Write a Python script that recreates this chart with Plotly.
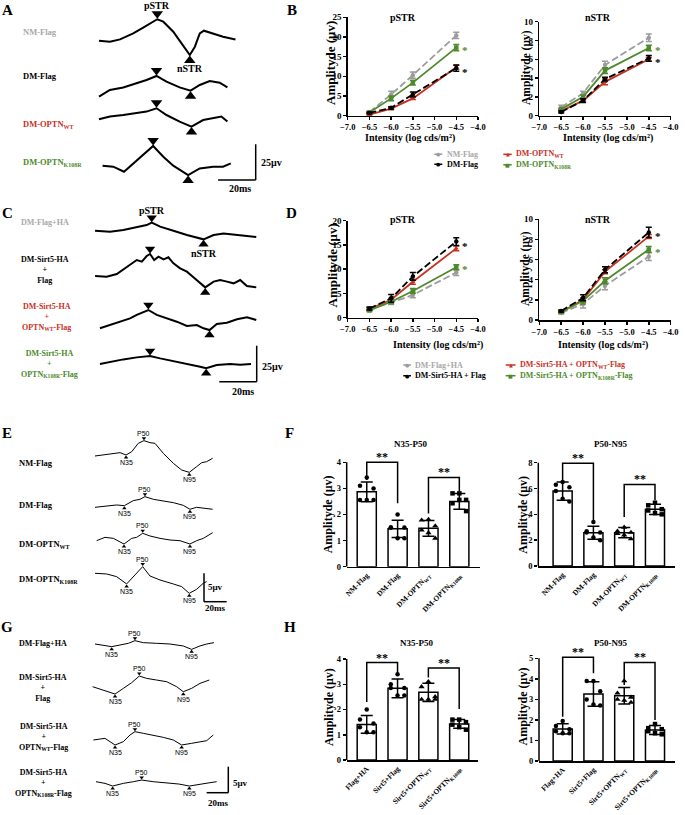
import numpy as np
import plotly.graph_objects as go

W, H = 685, 815
SERIF = "Liberation Serif"
SANS = "Liberation Sans"
GRAY = "#9c9c9c"
GRAY_TXT = "#a8a8a8"
RED = "#c8311f"
GREEN = "#4e8a2c"
BLACK = "#000000"

# ------------------------------------------------------------------ DATA
intensity = [-6.5, -6.0, -5.5, -4.5]

# Panel B (STR, diabetic + OPTN)
B_pSTR_NM = [0.9, 5.4, 10.3, 20.4]
B_pSTR_NM_err = [0.3, 0.8, 0.8, 0.8]
B_pSTR_DM = [0.7, 2.0, 5.4, 12.1]
B_pSTR_DM_err = [0.2, 0.3, 0.6, 0.8]
B_pSTR_WT = [0.3, 1.8, 4.4, 12.3]
B_pSTR_WT_err = [0.2, 0.3, 0.3, 0.5]
B_pSTR_K = [0.8, 4.4, 8.4, 17.3]
B_pSTR_K_err = [0.2, 0.6, 0.6, 0.8]
B_nSTR_NM = [0.9, 2.4, 5.4, 8.3]
B_nSTR_NM_err = [0.2, 0.2, 0.4, 0.4]
B_nSTR_DM = [0.4, 1.6, 3.9, 6.1]
B_nSTR_DM_err = [0.1, 0.2, 0.2, 0.3]
B_nSTR_WT = [0.5, 1.6, 3.6, 6.0]
B_nSTR_WT_err = [0.1, 0.1, 0.3, 0.2]
B_nSTR_K = [0.7, 2.0, 4.8, 7.2]
B_nSTR_K_err = [0.1, 0.2, 0.3, 0.3]
B_legend = ["NM-Flag", "DM-Flag", "DM-OPTN<sub>WT</sub>", "DM-OPTN<sub>K108R</sub>"]

# Panel D (STR, Sirt5 + OPTN)
D_pSTR_HA = [1.8, 3.1, 4.7, 9.3]
D_pSTR_HA_err = [0.2, 0.4, 0.6, 0.6]
D_pSTR_SF = [1.9, 4.0, 8.5, 15.7]
D_pSTR_SF_err = [0.3, 0.8, 0.8, 0.8]
D_pSTR_WT = [1.8, 3.7, 7.4, 14.3]
D_pSTR_WT_err = [0.2, 0.3, 0.5, 0.5]
D_pSTR_K = [1.5, 3.3, 5.5, 10.4]
D_pSTR_K_err = [0.2, 0.4, 0.5, 0.5]
D_nSTR_HA = [0.7, 1.6, 3.4, 6.3]
D_nSTR_HA_err = [0.1, 0.4, 0.4, 0.4]
D_nSTR_SF = [0.9, 2.2, 5.0, 8.7]
D_nSTR_SF_err = [0.1, 0.3, 0.3, 0.5]
D_nSTR_WT = [0.8, 2.0, 4.8, 8.3]
D_nSTR_WT_err = [0.1, 0.2, 0.2, 0.2]
D_nSTR_K = [0.8, 1.9, 3.9, 7.0]
D_nSTR_K_err = [0.1, 0.3, 0.3, 0.3]
D_legend = ["DM-Flag+HA", "DM-Sirt5-HA + Flag", "DM-Sirt5-HA + OPTN<sub>WT</sub>-Flag",
            "DM-Sirt5-HA + OPTN<sub>K108R</sub>-Flag"]

# Panel F (bar charts)
F_labels = ["NM-Flag", "DM-Flag", "DM-OPTN<sub>WT</sub>", "DM-OPTN<sub>K108R</sub>"]
F_N35P50_mean = [2.87, 1.45, 1.47, 2.50]
F_N35P50_sd = [0.38, 0.33, 0.30, 0.30]
F_N35P50_pts = [[3.42, 3.10, 3.00, 2.56, 2.56, 2.56],
                [2.00, 1.50, 1.50, 1.50, 1.09, 1.09],
                [1.81, 1.78, 1.56, 1.40, 1.30, 1.09],
                [2.81, 2.81, 2.56, 2.43, 2.56, 2.13]]
F_P50N95_mean = [5.80, 2.58, 2.58, 4.39]
F_P50N95_sd = [0.70, 0.50, 0.40, 0.40]
F_P50N95_pts = [[6.5, 6.3, 6.1, 5.8, 5.2, 5.0],
                [3.4, 2.7, 2.6, 2.6, 2.2, 2.0],
                [3.0, 2.7, 2.6, 2.5, 2.4, 2.1],
                [4.9, 4.7, 4.4, 4.3, 4.1, 4.0]]
F_N35P50_brackets = [(0, 1, 3.32, 4.0, 2.43), (2, 3, 2.04, 3.42, 2.90)]
F_P50N95_brackets = [(0, 1, 6.66, 7.95, 3.56), (2, 3, 3.80, 6.32, 5.10)]

# Panel H
H_labels = ["Flag+HA", "Sirt5+Flag", "Sirt5+OPTN<sub>WT</sub>", "Sirt5+OPTN<sub>K108R</sub>"]
H_N35P50_mean = [1.41, 2.84, 2.68, 1.43]
H_N35P50_sd = [0.35, 0.37, 0.36, 0.17]
H_N35P50_pts = [[2.00, 1.60, 1.45, 1.30, 1.10, 1.10],
                [3.40, 3.00, 2.85, 2.85, 2.55, 2.55],
                [3.10, 2.90, 2.50, 2.40, 2.40, 2.40],
                [1.60, 1.60, 1.50, 1.40, 1.30, 1.20]]
H_P50N95_mean = [1.56, 3.26, 3.18, 1.51]
H_P50N95_sd = [0.25, 0.60, 0.40, 0.22]
H_P50N95_pts = [[1.95, 1.70, 1.55, 1.45, 1.35, 1.35],
                [3.90, 3.90, 3.40, 3.00, 2.75, 2.70],
                [3.90, 3.30, 3.10, 3.00, 2.95, 2.85],
                [1.80, 1.60, 1.55, 1.45, 1.35, 1.30]]
H_N35P50_brackets = [(0, 1, 2.30, 3.86, 3.46), (2, 3, 3.27, 3.64, 2.02)]
H_P50N95_brackets = [(0, 1, 2.16, 5.05, 4.27), (2, 3, 3.70, 4.80, 2.00)]

# Panel A waveforms (t in ms, v in uV)
A_NM_t = [0, 5.8, 11.2, 18.2, 23.5, 28.8, 31.0, 34.2, 39.5, 43.9, 48.3, 51.0, 53.6, 55.8, 60.7, 66.0, 72.6]
A_NM_v = [0, -0.7, 0.9, 5.1, 9.1, 13.3, 15.0, 13.3, 6.3, -1.9, -10.0, -4.2, 5.1, 7.0, 5.1, 2.8, 0.9]
A_DM_t = [0, 5.8, 12.9, 20.0, 25.3, 30.6, 35.9, 42.9, 48.7, 53.6, 58.9, 64.2, 68.3]
A_DM_v = [0, 4.7, 6.5, 9.3, 11.7, 14.5, 10.5, 6.5, 4.2, 8.2, 11.0, 9.8, 6.5]
A_WT_t = [0, 5.8, 12.9, 20.0, 25.3, 30.6, 35.9, 42.9, 49.2, 55.4, 60.7, 65.1, 68.3]
A_WT_v = [0, 1.9, 3.0, 4.2, 5.4, 7.7, 3.0, -1.6, -5.1, -0.5, 0.7, 1.9, -1.6]
A_K_t = [1.9, 7.6, 13.3, 18.2, 23.5, 28.8, 34.2, 39.5, 47.4, 53.6, 60.7, 66.0, 70.1]
A_K_v = [0, -0.7, -4.2, 1.6, 7.5, 13.8, 6.3, 0, -6.5, -1.9, -0.7, -0.7, 1.6]
A_pSTR_t = [31.0, 30.6, 30.6, 28.8]
A_nSTR_t = [48.3, 48.7, 49.2, 47.4]
A_names = ["NM-Flag", "DM-Flag", "DM-OPTN<sub>WT</sub>", "DM-OPTN<sub>K108R</sub>"]

# Panel C waveforms
C_HA_t = [-2.1, 5.9, 13.0, 20.2, 25.5, 28.2, 32.7, 39.8, 47.0, 55.9, 61.3, 66.6, 72.0, 79.1, 84.1]
C_HA_v = [0, -0.7, 0.5, 2.3, 3.9, 5.6, 2.8, 0, -3.0, -6.0, -3.0, -1.9, -2.5, -3.7, -4.4]
C_SF_t = [-2.1, 4.1, 9.5, 13.9, 17.5, 20.2, 22.9, 25.5, 27.3, 29.5, 31.8, 34.5, 37.1, 39.8, 43.4,
          47.0, 50.5, 54.1, 56.8, 61.3, 64.8, 68.4, 72.0, 75.5, 79.1, 84.1]
C_SF_v = [0, -0.5, 1.4, 5.3, 8.8, 11.1, 10.0, 13.9, 15.3, 11.1, 13.4, 11.6, 13.0, 8.8, 5.3,
          3.0, -0.9, -5.1, -7.9, -3.9, -2.8, -3.9, -5.1, -2.8, -6.9, -7.9]
C_WT_t = [0.5, 5.9, 11.3, 16.6, 20.2, 23.8, 26.4, 30.9, 36.3, 41.6, 47.0, 52.3, 55.9, 59.1, 63.0,
          68.4, 73.8, 79.1, 84.1]
C_WT_v = [0, 2.3, 4.6, 6.9, 9.3, 11.6, 12.7, 9.3, 6.9, 4.6, 1.6, 2.3, 0, -1.2, 3.0, 3.9, 6.3, 7.6, 5.8]
C_K_t = [0.5, 5.9, 13.0, 20.2, 27.3, 32.7, 39.8, 47.0, 54.1, 57.3, 63.0, 70.2, 75.5, 81.3]
C_K_v = [0, 1.6, 3.2, 4.6, 5.6, 3.9, 2.1, 0, -1.9, -3.0, -0.7, 0, -0.5, 0]
C_pSTR_t = [28.2, 27.3, 26.4, 27.3]
C_nSTR_t = [55.9, 56.8, 59.1, 57.3]

# Panel E waveforms (PERG)
E_NM_t = [0, 7.4, 16.2, 22.1, 27.4, 32.4, 38.2, 43.2, 48.5, 52.9, 60.3, 69.1, 76.5, 83.2, 89.7, 94.1, 98.5, 103.8]
E_NM_v = [0, 0.18, 0.47, 0.59, 0.18, 0.76, 2.24, 2.71, 2.35, 2.24, 0.47, -1.29, -2.47, -2.88, -1.88, -1.18, -1.0, -0.41]
E_DM_t = [0, 10.3, 19.1, 25.9, 33.8, 39.7, 44.1, 51.5, 60.3, 69.1, 77.9, 83.8, 89.7, 95.6, 103.8]
E_DM_v = [0, 0.24, 0.41, 0.29, 1.18, 1.41, 1.88, 1.41, 1.18, 0.82, 0.35, -0.35, 0, -0.18, -0.35]
E_WT_t = [1.5, 8.8, 16.2, 25.6, 32.4, 36.8, 42.1, 48.5, 57.4, 66.2, 75.0, 83.8, 89.7, 95.6, 103.8]
E_WT_v = [-0.12, 0.47, 0.29, -0.71, 0.29, 0.47, 1.18, 0.71, 0.29, 0, -0.12, -0.71, -0.12, 0.29, 1.29]
E_K_t = [0, 10.3, 19.1, 27.9, 35.3, 42.1, 48.5, 57.4, 69.1, 76.5, 83.2, 89.7, 95.6, 98.5]
E_K_v = [0, -0.12, -0.59, -1.88, -0.29, 1.18, -0.47, -1.18, -1.88, -2.35, -3.53, -2.82, -1.76, -1.47]
E_N35_t = [27.4, 25.9, 25.6, 27.9]
E_P50_t = [43.2, 44.1, 42.1, 42.1]
E_N95_t = [83.2, 83.8, 83.8, 83.2]

# Panel G waveforms
G_HA_t = [0, 7.7, 15.4, 23.1, 30.8, 36.9, 44.6, 56.9, 69.2, 81.5, 89.2, 96.9, 103.1, 109.8]
G_HA_v = [0, -0.19, -0.51, -0.19, 0.13, 0.64, 0.26, 0.13, 0, -0.38, -1.03, -0.38, 0, 0.26]
G_SF_t = [-2.2, 7.7, 18.5, 26.2, 33.8, 40.9, 47.7, 56.9, 66.2, 75.4, 81.5, 89.2, 96.9, 105.5]
G_SF_v = [0, -0.64, -1.41, -0.32, 0.77, 2.05, 1.60, 1.28, 0.96, 0, -0.96, -0.32, 0.64, 1.28]
G_WT_t = [-1.5, 9.2, 18.5, 26.2, 32.3, 36.9, 44.6, 53.8, 63.1, 72.3, 80.0, 89.2, 96.9, 103.1, 109.2]
G_WT_v = [0, 0.32, -0.96, -0.32, 0.96, 1.60, 1.28, 0.96, 0.51, 0, -0.96, -0.64, -0.32, -0.13, 0.96]
G_K_t = [0.9, 9.2, 16.3, 26.2, 35.4, 43.1, 53.8, 66.2, 77.5, 87.1, 96.9, 106.2, 112.3]
G_K_v = [0, -0.32, -0.83, -0.32, 0, 0.32, 0, -0.19, -0.45, -0.83, -0.45, -0.19, 0]
G_N35_t = [15.4, 18.5, 18.5, 16.3]
G_P50_t = [36.9, 40.9, 36.9, 43.1]
G_N95_t = [89.2, 81.5, 80.0, 87.1]

SCALE_MS = 20
SCALE_STR_UV = 25
SCALE_PERG_UV = 5

# ------------------------------------------------------------------ HELPERS
fig = go.Figure()
layout = {}
annotations = []
shapes = []


def xa(i): return "xaxis" if i == 1 else f"xaxis{i}"
def ya(i): return "yaxis" if i == 1 else f"yaxis{i}"
def xr(i): return "x" if i == 1 else f"x{i}"
def yr(i): return "y" if i == 1 else f"y{i}"


def F(size, color="black", family=SERIF, weight="bold"):
    return dict(family=family, size=size, color=color, weight=weight)


def note(text, px, py, size=9, color="black", family=SERIF, weight="bold",
         xanchor="center", yanchor="middle", angle=0):
    annotations.append(dict(text=text, x=px / W, y=1 - py / H, xref="paper", yref="paper",
                            showarrow=False, xanchor=xanchor, yanchor=yanchor, textangle=angle,
                            font=F(size, color, family, weight)))


def pline(x0, y0, x1, y1, color="black", width=1.5, dash="solid"):
    shapes.append(dict(type="line", xref="paper", yref="paper", x0=x0 / W, x1=x1 / W,
                       y0=1 - y0 / H, y1=1 - y1 / H, line=dict(color=color, width=width, dash=dash)))


# ------------------------------------------------------------------ LINE CHARTS (B, D)
def line_axes(i, x0, x1, ytop, ybot, ymax, dtick):
    layout[xa(i)] = dict(domain=[x0 / W, x1 / W], anchor=yr(i), range=[-7, -4], tickmode="linear",
                         tick0=-7, dtick=0.5, tickformat=".1f", ticks="outside", ticklen=3,
                         tickwidth=1.5, tickcolor="black", showline=True, linewidth=1.5,
                         linecolor="black", showgrid=False, zeroline=False, tickfont=F(8.5),
                         fixedrange=True)
    layout[ya(i)] = dict(domain=[1 - ybot / H, 1 - ytop / H], anchor=xr(i), range=[0, ymax],
                         tickmode="linear", tick0=0, dtick=dtick, ticks="outside", ticklen=3,
                         tickwidth=1.5, tickcolor="black", showline=True, linewidth=1.5,
                         linecolor="black", showgrid=False, zeroline=False, tickfont=F(9),
                         fixedrange=True)


line_axes(1, 347.7, 478, 17.3, 115.7, 25, 5)
line_axes(2, 539.3, 670.7, 21.7, 115.7, 10, 2)
line_axes(3, 347.7, 478, 220.7, 317.7, 20, 5)
line_axes(4, 539.3, 670.7, 219.3, 320, 10, 2)

STY = {  # color, dash, symbol
    0: (GRAY, "7px,3px", "circle"),
    1: (BLACK, "7px,3px", "circle"),
    2: (RED, "solid", "triangle-up"),
    3: (GREEN, "solid", "square"),
}

B_p = [(B_pSTR_NM, B_pSTR_NM_err), (B_pSTR_DM, B_pSTR_DM_err), (B_pSTR_WT, B_pSTR_WT_err), (B_pSTR_K, B_pSTR_K_err)]
B_n = [(B_nSTR_NM, B_nSTR_NM_err), (B_nSTR_DM, B_nSTR_DM_err), (B_nSTR_WT, B_nSTR_WT_err), (B_nSTR_K, B_nSTR_K_err)]
D_p = [(D_pSTR_HA, D_pSTR_HA_err), (D_pSTR_SF, D_pSTR_SF_err), (D_pSTR_WT, D_pSTR_WT_err), (D_pSTR_K, D_pSTR_K_err)]
D_n = [(D_nSTR_HA, D_nSTR_HA_err), (D_nSTR_SF, D_nSTR_SF_err), (D_nSTR_WT, D_nSTR_WT_err), (D_nSTR_K, D_nSTR_K_err)]

for ai, series in [(1, B_p), (2, B_n), (3, D_p), (4, D_n)]:
    for k in [0, 2, 3, 1]:
        ys, es = series[k]
        col, dash, sym = STY[k]
        fig.add_trace(go.Scatter(
            x=intensity, y=ys, mode="lines+markers", xaxis=xr(ai), yaxis=yr(ai),
            line=dict(color=col, width=1.8, dash=dash),
            marker=dict(symbol=sym, size=4.5, color=col),
            error_y=dict(type="data", array=es, color=col, thickness=1.5, width=3),
            cliponaxis=False, hoverinfo="skip"))
    for k, col, ys_ in [(1, BLACK, -4), (3, GREEN, -2)]:
        annotations.append(dict(text="*", x=intensity[-1], y=series[k][0][-1], xref=xr(ai),
                                yref=yr(ai), xshift=9, yshift=ys_, showarrow=False,
                                font=F(11, col)))

note("pSTR", 403, 17.5, 10)
note("nSTR", 598, 17.5, 10)
note("pSTR", 403, 219, 10)
note("nSTR", 598, 219, 10)
note("Intensity (log cds/m²)", 410, 138, 10)
note("Intensity (log cds/m²)", 608, 138, 10)
note("Intensity (log cds/m²)", 438, 345, 10)
note("Intensity (log cds/m²)", 603, 345, 10)
note("Amplityde (μv)", 330, 63, 13, angle=-90)
note("Amplityde (μv)", 527, 68, 11.5, angle=-90)
note("Amplityde (μv)", 331.5, 266, 13, angle=-90)
note("Amplityde (μv)", 525, 269, 11.5, angle=-90)


def legend_item(gx0, gx1, gy, k, text, tcolor):
    col, dash, sym = STY[k]
    pline(gx0, gy, gx1, gy, col, 1.5, "solid" if dash == "solid" else "3px,2px")
    ch = {"circle": "●", "triangle-up": "▲", "square": "■"}[sym]
    note(ch, (gx0 + gx1) / 2, gy, 5, col, family="DejaVu Sans", weight="normal")
    note(text, gx1 + 2, gy, 8, tcolor, xanchor="left")


legend_item(434.3, 443.3, 154.3, 0, B_legend[0], GRAY_TXT)
legend_item(434.3, 443.3, 164.3, 1, B_legend[1], BLACK)
legend_item(503.3, 511.7, 154.3, 2, B_legend[2], RED)
legend_item(503.3, 511.7, 164.8, 3, B_legend[3], GREEN)
legend_item(403.3, 411.0, 365.0, 0, D_legend[0], GRAY_TXT)
legend_item(403.3, 411.0, 375.7, 1, D_legend[1], BLACK)
legend_item(505.7, 515.5, 365.0, 2, D_legend[2], RED)
legend_item(505.7, 515.5, 375.7, 3, D_legend[3], GREEN)

# ------------------------------------------------------------------ BAR CHARTS (F, H)
DOT_OFF = [0.0, -0.22, 0.22, -0.22, 0.0, 0.22]
DOT_SYM = ["circle", "circle", "triangle-up", "square"]


def bar_panel(i, x0, x1, dom_top, y0py, top_tick, top_py, dtick, xrange, labels, means, sds, pts, brackets):
    ppu = (y0py - top_py) / top_tick
    ymax = (y0py - dom_top) / ppu
    layout[xa(i)] = dict(domain=[x0 / W, x1 / W], anchor=yr(i), range=xrange, tickmode="array",
                         tickvals=[0, 1, 2, 3], ticktext=labels, tickangle=-45, ticks="",
                         showline=True, linewidth=1.5, linecolor="black", showgrid=False,
                         zeroline=False, tickfont=F(7.5), fixedrange=True)
    layout[ya(i)] = dict(domain=[1 - y0py / H, 1 - dom_top / H], anchor=xr(i), range=[0, ymax],
                         tickmode="array", tickvals=list(np.arange(0, top_tick + 0.001, dtick)),
                         ticks="outside", ticklen=3, tickwidth=1.5, tickcolor="black",
                         showline=False, showgrid=False, zeroline=False, tickfont=F(8.5),
                         fixedrange=True)
    shapes.append(dict(type="line", xref=f"{xr(i)} domain", yref=yr(i), x0=0, x1=0, y0=0,
                       y1=top_tick, line=dict(color="black", width=1.5)))
    fig.add_trace(go.Bar(x=[0, 1, 2, 3], y=means, width=0.62, xaxis=xr(i), yaxis=yr(i),
                         marker=dict(color="white", line=dict(color="black", width=1.5)),
                         error_y=dict(type="data", array=sds, color="black", thickness=1.5, width=6),
                         hoverinfo="skip"))
    for g in range(4):
        fig.add_trace(go.Scatter(x=[g + o for o in DOT_OFF], y=pts[g], mode="markers",
                                 xaxis=xr(i), yaxis=yr(i), cliponaxis=False, hoverinfo="skip",
                                 marker=dict(symbol=DOT_SYM[g], size=4.5 if g != 2 else 5.5,
                                             color="black")))
    for a, b, la, top, lb in brackets:
        fig.add_trace(go.Scatter(x=[a, a, b, b], y=[la, top, top, lb], mode="lines",
                                 xaxis=xr(i), yaxis=yr(i), hoverinfo="skip",
                                 line=dict(color="black", width=1.5)))
        annotations.append(dict(text="**", x=(a + b) / 2, y=top, xref=xr(i), yref=yr(i),
                                yshift=5, showarrow=False, font=F(12)))


bar_panel(5, 346.7, 480, 440, 566.7, 4, 462.3, 1, [-0.65, 3.67], F_labels,
          F_N35P50_mean, F_N35P50_sd, F_N35P50_pts, F_N35P50_brackets)
bar_panel(6, 538.3, 675, 440, 566, 8, 462.7, 2, [-0.79, 3.65], F_labels,
          F_P50N95_mean, F_P50N95_sd, F_P50N95_pts, F_P50N95_brackets)
bar_panel(7, 346.7, 478.3, 640, 760, 4, 659, 1, [-0.65, 3.62], H_labels,
          H_N35P50_mean, H_N35P50_sd, H_N35P50_pts, H_N35P50_brackets)
bar_panel(8, 539, 675, 640, 761, 5, 658.3, 1, [-0.77, 3.65], H_labels,
          H_P50N95_mean, H_P50N95_sd, H_P50N95_pts, H_P50N95_brackets)

note("N35-P50", 410.7, 444.3, 9)
note("P50-N95", 610, 444.3, 9)
note("N35-P50", 416, 642.7, 9)
note("P50-N95", 610, 642.7, 9)
note("Amplityde (μv)", 328.3, 514, 12, angle=-90)
note("Amplityde (μv)", 522.7, 515, 12, angle=-90)
note("Amplityde (μv)", 328.3, 706.7, 12, angle=-90)
note("Amplityde (μv)", 522.7, 706.7, 12, angle=-90)


# ------------------------------------------------------------------ WAVEFORMS (A, C, E, G)
def wave_axes(i, x0, x1, ytop, ybot, t0px, ppm, ppu):
    layout[xa(i)] = dict(domain=[x0 / W, x1 / W], anchor=yr(i),
                         range=[(x0 - t0px) / ppm, (x1 - t0px) / ppm], visible=False, fixedrange=True)
    layout[ya(i)] = dict(domain=[1 - ybot / H, 1 - ytop / H], anchor=xr(i),
                         range=[0, (ybot - ytop) / ppu], visible=False, fixedrange=True)
    return lambda base_py: (ybot - base_py) / ppu


def wave(i, t, v, off, width):
    fig.add_trace(go.Scatter(x=t, y=[vv + off for vv in v], mode="lines", xaxis=xr(i), yaxis=yr(i),
                             line=dict(color="black", width=width, shape="linear"),
                             hoverinfo="skip"))


def wave_mark(i, t, v, off, tm, up, size, ppu, label=None, lab_shift=0, lab_font=None):
    yv = float(np.interp(tm, t, v)) + off
    sym = "triangle-up" if up else "triangle-down"
    shift = (size / 2 + 0.5) / ppu
    fig.add_trace(go.Scatter(x=[tm], y=[yv - shift if up else yv + shift], mode="markers",
                             xaxis=xr(i), yaxis=yr(i), cliponaxis=False, hoverinfo="skip",
                             marker=dict(symbol=sym, size=size, color="black", line=dict(width=0))))
    if label:
        annotations.append(dict(text=label, x=tm, y=yv, xref=xr(i), yref=yr(i), showarrow=False,
                                yshift=lab_shift, font=lab_font))


def scale_bar(i, tc, yc, ms, uv, left_vertical=False):
    if left_vertical:
        shapes.append(dict(type="line", xref=xr(i), yref=yr(i), x0=tc, x1=tc + ms, y0=yc, y1=yc,
                           line=dict(color="black", width=1.5)))
    else:
        shapes.append(dict(type="line", xref=xr(i), yref=yr(i), x0=tc - ms, x1=tc, y0=yc, y1=yc,
                           line=dict(color="black", width=1.5)))
    shapes.append(dict(type="line", xref=xr(i), yref=yr(i), x0=tc, x1=tc, y0=yc, y1=yc + uv,
                       line=dict(color="black", width=1.5)))


# --- A
ppmA, ppuA = 1.88, 1.43
offA = wave_axes(9, 90, 272, 0, 200, 99, ppmA, ppuA)
A_waves = [(A_NM_t, A_NM_v), (A_DM_t, A_DM_v), (A_WT_t, A_WT_v), (A_K_t, A_K_v)]
A_base = [40.7, 96.7, 119.3, 165.7]
for k, (t, v) in enumerate(A_waves):
    o = offA(A_base[k])
    wave(9, t, v, o, 2)
    wave_mark(9, t, v, o, A_pSTR_t[k], False, 10, ppuA,
              "pSTR" if k == 0 else None, 14, F(10))
    wave_mark(9, t, v, o, A_nSTR_t[k], True, 10, ppuA,
              "nSTR" if k == 0 else None, -13, F(10))
scale_bar(9, (255.7 - 99) / ppmA, (200 - 180) / ppuA, SCALE_MS, SCALE_STR_UV)
note("25μv", 258.5, 163, 10, xanchor="left")
note("20ms", 240, 188.5, 10)
A_cols = [GRAY_TXT, BLACK, RED, GREEN]
A_lab_py = [32.3, 76, 124, 163]
for k in range(4):
    note(A_names[k], 21, A_lab_py[k], 8.5, A_cols[k], xanchor="left")

# --- C
ppmC, ppuC = 1.87, 1.44
offC = wave_axes(10, 90, 272, 200, 400, 99, ppmC, ppuC)
C_waves = [(C_HA_t, C_HA_v), (C_SF_t, C_SF_v), (C_WT_t, C_WT_v), (C_K_t, C_K_v)]
C_base = [230.7, 276, 328.3, 364]
for k, (t, v) in enumerate(C_waves):
    o = offC(C_base[k])
    wave(10, t, v, o, 2)
    wave_mark(10, t, v, o, C_pSTR_t[k], False, 9, ppuC,
              "pSTR" if k == 0 else None, 12, F(10))
    wave_mark(10, t, v, o, C_nSTR_t[k], True, 9, ppuC,
              "nSTR" if k == 0 else None, -14, F(10))
scale_bar(10, (256.7 - 99) / ppmC, (400 - 381.7) / ppuC, SCALE_MS, SCALE_STR_UV)
note("25μv", 259.5, 366, 10, xanchor="left")
note("20ms", 243, 391.7, 10)
C_names = ["DM-Flag+HA", "DM-Sirt5-HA<br>+<br>Flag", "DM-Sirt5-HA<br>+<br>OPTN<sub>WT</sub>-Flag",
           "DM-Sirt5-HA<br>+<br>OPTN<sub>K108R</sub>-Flag"]
C_lab_py = [222.7, 270, 317, 364]
C_lab_px = [45, 45, 46.5, 50]
for k in range(4):
    note(C_names[k], C_lab_px[k], C_lab_py[k], 8, A_cols[k])

# --- E
ppmE, ppuE = 1.133, 5.67
offE = wave_axes(11, 85, 240, 420, 620, 95, ppmE, ppuE)
E_waves = [(E_NM_t, E_NM_v), (E_DM_t, E_DM_v), (E_WT_t, E_WT_v), (E_K_t, E_K_v)]
E_base = [456, 507.3, 540, 573.3]
small = F(7, family=SANS, weight="normal")
for k, (t, v) in enumerate(E_waves):
    o = offE(E_base[k])
    wave(11, t, v, o, 1)
    wave_mark(11, t, v, o, E_N35_t[k], True, 4, ppuE, "N35", -7.5, small)
    wave_mark(11, t, v, o, E_P50_t[k], False, 4, ppuE, "P50", 7.5, small)
    wave_mark(11, t, v, o, E_N95_t[k], True, 4, ppuE, "N95", -7.5, small)
scale_bar(11, (204 - 95) / ppmE, (620 - 601.7) / ppuE, SCALE_MS, SCALE_PERG_UV, left_vertical=True)
note("5μv", 206.5, 586.7, 9, xanchor="left")
note("20ms", 215, 608.3, 9)
E_lab_py = [463.3, 505, 544, 579.3]
for k in range(4):
    note(A_names[k], 16.7, E_lab_py[k], 8.5, BLACK, xanchor="left")

# --- G
ppmG, ppuG = 1.083, 5.2
offG = wave_axes(12, 85, 240, 620, 815, 95, ppmG, ppuG)
G_waves = [(G_HA_t, G_HA_v), (G_SF_t, G_SF_v), (G_WT_t, G_WT_v), (G_K_t, G_K_v)]
G_base = [644, 686.7, 740, 781.7]
for k, (t, v) in enumerate(G_waves):
    o = offG(G_base[k])
    wave(12, t, v, o, 1)
    wave_mark(12, t, v, o, G_N35_t[k], True, 4, ppuG, "N35", -7.5, small)
    wave_mark(12, t, v, o, G_P50_t[k], False, 4, ppuG, "P50", 7.5, small)
    wave_mark(12, t, v, o, G_N95_t[k], True, 4, ppuG, "N95", -7.5, small)
scale_bar(12, (228.3 - 95) / ppmG, (815 - 792.7) / ppuG, SCALE_MS, SCALE_PERG_UV)
note("5μv", 230.5, 783.3, 9, xanchor="left")
note("20ms", 218.3, 802.7, 9)
G_lab_py = [643.3, 688, 737, 783]
for k in range(4):
    note(C_names[k], 43.5, G_lab_py[k], 8, BLACK)

# ------------------------------------------------------------------ PANEL LETTERS
for letter, px, py in [("A", 7, 9.5), ("B", 291.7, 9.5), ("C", 7.3, 213.3), ("D", 291.7, 213.3),
                       ("E", 6.7, 433.3), ("F", 289.3, 433.3), ("G", 7.3, 627.3), ("H", 290, 627.3)]:
    note(letter, px, py, 15)

layout.update(dict(template="none", width=W, height=H, margin=dict(l=0, r=0, t=0, b=0),
                   paper_bgcolor="white", plot_bgcolor="rgba(0,0,0,0)", showlegend=False, bargap=0,
                   font=dict(family=SERIF, size=9, color="black", weight="bold"),
                   annotations=annotations, shapes=shapes))
fig.update_layout(**layout)
fig.write_html("out.html", config={"displayModeBar": False, "staticPlot": True},
               post_script="document.body.style.margin='0px';document.body.style.padding='0px';"
                           "document.body.style.overflow='hidden';")
